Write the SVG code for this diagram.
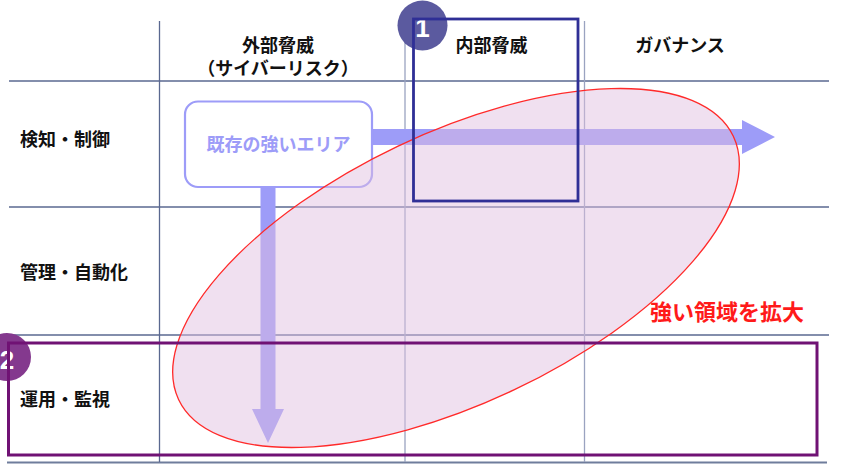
<svg xmlns="http://www.w3.org/2000/svg" width="846" height="472" viewBox="0 0 846 472">
<style>
.lbl{font-family:"Noto Sans CJK JP","Noto Sans",sans-serif;font-weight:700;font-size:18px;fill:#111}
.grid{stroke:#5a6890;stroke-width:1.3;fill:none}
.arrow{fill:#9d9cf8}
.num{font-family:"Liberation Sans",Arial,sans-serif;font-weight:700;font-size:26px;fill:#fff;text-anchor:middle}
</style>
<rect width="846" height="472" fill="#fff"/>
<g id="grid">
<line class="grid" x1="9" y1="81" x2="829" y2="81"/>
<line class="grid" x1="9" y1="207" x2="829" y2="207"/>
<line class="grid" x1="9" y1="335" x2="829" y2="335"/>
<line class="grid" x1="7" y1="462.5" x2="827" y2="462.5" style="stroke:#6f7d9c;stroke-width:2"/>
<line class="grid" x1="159.5" y1="21" x2="159.5" y2="462"/>
<line class="grid" x1="405" y1="21" x2="405" y2="462" style="stroke:#9aa3c0"/>
<line class="grid" x1="584.5" y1="21" x2="584.5" y2="462" style="stroke:#9aa3c0"/>
</g>
<g id="headers">
<text class="lbl" x="278" y="52" text-anchor="middle">外部脅威</text>
<text class="lbl" x="278" y="75" text-anchor="middle">（サイバーリスク）</text>
<text class="lbl" x="491.5" y="52" text-anchor="middle">内部脅威</text>
<text class="lbl" x="680" y="52" text-anchor="middle">ガバナンス</text>
<text class="lbl" x="20" y="146">検知・制御</text>
<text class="lbl" x="20" y="279">管理・自動化</text>
<text class="lbl" x="20" y="406">運用・監視</text>
</g>
<g id="connectors">
<path class="arrow" d="M360 129 H742 V120 L775 137 L742 154 V145 H360 Z"/>
<path class="arrow" d="M260.5 180 V409 H252 L268 443 L284 409 H275.5 V180 Z"/>
</g>
<g id="strong-area">
<rect x="185" y="101.5" width="187" height="85.5" rx="13" fill="#fff" stroke="#9d9cf8" stroke-width="2.2"/>
<text class="lbl" x="278.5" y="151" text-anchor="middle" style="fill:#9d9cf8">既存の強いエリア</text>
</g>
<g id="expand-area">
<ellipse cx="456" cy="268" rx="307" ry="135" transform="rotate(-25.4 456 268)" fill="#dfbfe0" fill-opacity="0.48" stroke="#ff2a2a" stroke-width="1.3"/>
<text class="lbl" x="727" y="320" text-anchor="middle" style="fill:#ff1a1a;font-size:22px">強い領域を拡大</text>
</g>
<g id="focus-1">
<circle cx="422.5" cy="25.5" r="25" fill="#5b5a9f"/>
<text class="num" x="422.5" y="37">1</text>
<rect x="413.5" y="19" width="164.5" height="182" fill="none" stroke="#2f2f96" stroke-width="2.8"/>
</g>
<g id="focus-2">
<circle cx="7" cy="357" r="24" fill="#84398e"/>
<text class="num" x="7" y="369">2</text>
<rect x="8.5" y="343" width="808.5" height="112" fill="none" stroke="#701274" stroke-width="3"/>
</g>
</svg>
